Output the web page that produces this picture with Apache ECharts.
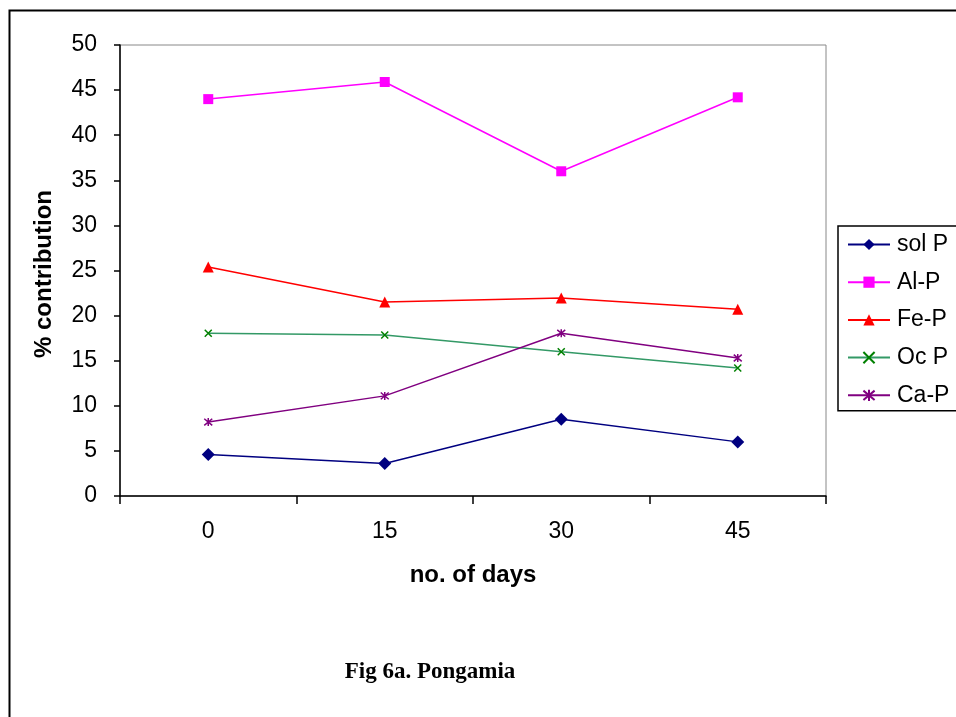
<!DOCTYPE html>
<html>
<head>
<meta charset="utf-8">
<script src="https://cdn.jsdelivr.net/npm/echarts@6/dist/echarts.min.js"></script>
<style>html,body{margin:0;padding:0;background:#fff;}#c{width:956px;height:717px;}</style>
</head>
<body>
<div id="c"></div>
<script>
const categories = ['0', '15', '30', '45'];
const solP = [4.6, 3.6, 8.5, 6.0];
const alP = [44.0, 45.9, 36.0, 44.2];
const feP = [25.4, 21.5, 21.95, 20.7];
const ocP = [18.05, 17.85, 16.0, 14.2];
const caP = [8.2, 11.1, 18.05, 15.3];
const yTicks = [0, 5, 10, 15, 20, 25, 30, 35, 40, 45, 50];

const chart = echarts.init(document.getElementById('c'));
const xPath = 'path://M0,0 L10,10 M10,0 L0,10';
const starPath = 'path://M0,0 L10,10 M10,0 L0,10 M5,-1 L5,11';

chart.setOption({
  animation: false,
  backgroundColor: '#fff',
  grid: { left: 120, right: 130, top: 45, bottom: 221, show: true, borderColor: '#888', borderWidth: 1 },
  xAxis: {
    type: 'category',
    data: categories,
    boundaryGap: true,
    name: 'no. of days',
    nameLocation: 'middle',
    nameGap: 67,
    nameTextStyle: { fontFamily: 'Liberation Sans', fontWeight: 'bold', fontSize: 24, color: '#000' },
    axisLine: { lineStyle: { color: '#000', width: 1.5 } },
    axisTick: { show: true, length: 8, lineStyle: { color: '#000', width: 1.5 } },
    axisLabel: { margin: 24, fontFamily: 'Liberation Sans', fontSize: 23, color: '#000' },
    splitLine: { show: false }
  },
  yAxis: {
    type: 'value',
    min: yTicks[0],
    max: yTicks[yTicks.length - 1],
    interval: 5,
    axisLine: { show: true, lineStyle: { color: '#000', width: 1.5 } },
    axisTick: { show: true, length: 6, lineStyle: { color: '#000', width: 1.5 } },
    axisLabel: { margin: 23, fontFamily: 'Liberation Sans', fontSize: 23, color: '#000' },
    splitLine: { show: false }
  },
  legend: {
    orient: 'vertical',
    left: 838,
    top: 226,
    padding: [7, 20, 4, 9],
    borderColor: '#000',
    borderWidth: 1.5,
    itemWidth: 42,
    itemHeight: 14,
    itemGap: 14.7,
    textStyle: { fontFamily: 'Liberation Sans', fontSize: 23, color: '#000', padding: [0, 0, 0, 2] },
    data: ['sol P', 'Al-P', 'Fe-P', 'Oc P', 'Ca-P']
  },
  series: [
    { name: 'sol P', type: 'line', data: solP, symbol: 'diamond', symbolSize: 13,
      itemStyle: { color: '#000080' }, lineStyle: { color: '#000080', width: 1.5 } },
    { name: 'Al-P', type: 'line', data: alP, symbol: 'rect', symbolSize: 10,
      itemStyle: { color: '#FF00FF' }, lineStyle: { color: '#FF00FF', width: 1.5 } },
    { name: 'Fe-P', type: 'line', data: feP, symbol: 'triangle', symbolSize: 11,
      itemStyle: { color: '#FF0000' }, lineStyle: { color: '#FF0000', width: 1.5 } },
    { name: 'Oc P', type: 'line', data: ocP, symbol: xPath, symbolSize: 7,
      itemStyle: { color: 'transparent', borderColor: '#008000', borderWidth: 1.5 }, lineStyle: { color: '#339966', width: 1.5 } },
    { name: 'Ca-P', type: 'line', data: caP, symbol: starPath, symbolSize: 8,
      itemStyle: { color: 'transparent', borderColor: '#800080', borderWidth: 1.5 }, lineStyle: { color: '#800080', width: 1.5 } }
  ],
  graphic: [
    { type: 'rect', left: 7, top: 8, shape: { x: 0, y: 0, width: 960, height: 720 },
      style: { fill: 'none', stroke: '#000', lineWidth: 2 }, silent: true, z: -1 },
    { type: 'text', x: 44, y: 274, rotation: Math.PI / 2,
      style: { text: '% contribution', font: 'bold 24px "Liberation Sans"', fill: '#000', textAlign: 'center', textVerticalAlign: 'middle' } },
    { type: 'text', x: 430, y: 672, style: { text: 'Fig 6a. Pongamia', font: 'bold 23px "Liberation Serif"', fill: '#000', textAlign: 'center', textVerticalAlign: 'middle' } }
  ]
});
</script>
</body>
</html>
